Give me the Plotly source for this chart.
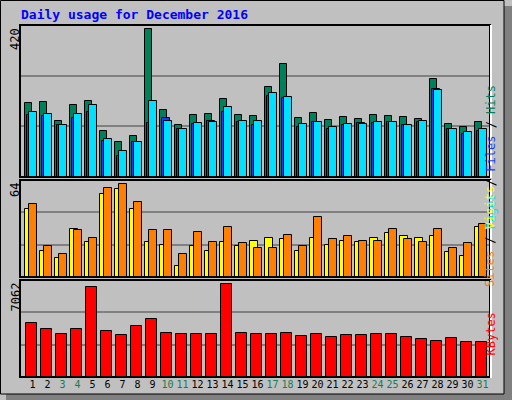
import plotly.graph_objects as go

days = list(range(1, 32))
weekend = [3, 4, 10, 11, 17, 18, 24, 25, 31]
hits = [204, 206, 154, 198, 209, 126, 96, 112, 408, 184, 143, 170, 173, 215, 170, 168,
        248, 311, 162, 176, 157, 165, 159, 170, 168, 165, 159, 270, 146, 137, 151]
files = [170, 168, 143, 162, 181, 99, 57, 96, 148, 162, 134, 146, 154, 181, 151, 143,
         223, 217, 137, 151, 132, 143, 148, 148, 151, 143, 151, 242, 132, 118, 126]
pages = [181, 173, 143, 173, 198, 104, 71, 96, 209, 154, 132, 148, 151, 193, 154, 154,
         231, 220, 146, 151, 137, 146, 146, 151, 151, 143, 154, 240, 134, 124, 134]
sites = [44.7, 17.3, 12.7, 32, 23.3, 54.7, 58, 44.7, 23.3, 21.3, 7.3, 20.7, 17.3, 23.3, 20.7, 24,
         26, 25.3, 17.3, 26, 21.3, 24, 23.3, 26, 29.3, 27.3, 26, 27.3, 16.7, 14, 32.7]
visits = [48, 20.7, 15.3, 30.7, 26, 58.7, 61.3, 49.3, 30.7, 30.7, 15.3, 30, 23.3, 32.7, 22.7, 19.3,
          19.3, 28, 20.7, 39.3, 25.3, 27.3, 24, 24, 32, 25.3, 23.3, 32, 19.3, 22.7, 34.7]
kbytes = [3951, 3506, 3136, 3506, 6543, 3358, 3062, 3728, 4247, 3210, 3136, 3136, 3136, 6766, 3210, 3136,
          3136, 3210, 2988, 3136, 2914, 3062, 3062, 3136, 3136, 2914, 2766, 2617, 2840, 2543, 2543]
max_hits, max_visits, max_kb = 420, 64, 7062

C_HITS, C_FILES, C_PAGES = "#00805a", "#1040ff", "#00e0ff"
C_SITES, C_VISITS, C_KB = "#ffff00", "#ff8000", "#ff0000"
W, H = 512, 400

fig = go.Figure()
line = dict(color="black", width=1)
def bar(y, color, off, w, ax):
    fig.add_trace(go.Bar(x=days, y=y, offset=off, width=w, marker=dict(color=color, line=line),
                         xaxis="x" + ax, yaxis="y" + ax, showlegend=False, hoverinfo="y"))
bar(hits, C_HITS, -0.48, 0.47, "")
bar(files, C_FILES, -0.36, 0.53, "")
bar(pages, C_PAGES, -0.24, 0.53, "")
bar(sites, C_SITES, -0.48, 0.5, "2")
bar(visits, C_VISITS, -0.22, 0.49, "2")
bar(kbytes, C_KB, -0.41, 0.69, "3")

def px(x): return x / W
def py(y): return 1 - y / H
xd = [px(20), px(490)]
panels = [("", 25, 177, max_hits), ("2", 180, 277, max_visits), ("3", 280, 377, max_kb)]
ticktext = [f"<span style='color:{'#1a7a55' if d in weekend else 'black'}'>{d}</span>" for d in days]
lay = dict(paper_bgcolor="#c0c0c0", plot_bgcolor="#c0c0c0", width=W, height=H,
           margin=dict(l=0, r=0, t=0, b=0), barmode="overlay", bargap=0,
           font=dict(family="DejaVu Sans Mono", size=11, color="black"))
shapes, ann = [], []
for ax, top, bot, mx in panels:
    xa = dict(domain=xd, range=[0.17, 31.5], showgrid=False, zeroline=False, fixedrange=True,
              showticklabels=False, ticks="")
    if ax == "3":
        xa.update(showticklabels=True, tickvals=days, ticktext=ticktext, tickangle=0,
                  tickfont=dict(size=10, family="DejaVu Sans Mono"), automargin=False)
    else:
        xa["matches"] = "x3"
    if ax:
        xa["anchor"] = "y" + ax
    ya = dict(domain=[py(bot), py(top)], range=[0, mx], showticklabels=False,
              tickvals=[mx / 3, 2 * mx / 3], gridcolor="#808080", gridwidth=2, zeroline=False, fixedrange=True)
    if ax:
        ya["anchor"] = "x" + ax
    lay["xaxis" + ax] = xa
    lay["yaxis" + ax] = ya
    shapes.append(dict(type="rect", xref="paper", yref="paper", x0=px(20), x1=px(490), y0=py(bot), y1=py(top),
                       line=dict(color="black", width=2)))
    shapes.append(dict(type="line", xref="paper", yref="paper", x0=px(491), x1=px(491), y0=py(bot + 1), y1=py(top),
                       line=dict(color="white", width=2)))
    ann.append(dict(text=str(mx), xref="paper", yref="paper", x=px(15), y=py(top + 1), xanchor="center",
                    yanchor="top", textangle=-90, showarrow=False, font=dict(size=12)))

def span(t, c): return f"<span style='color:{c}'>{t}</span>"
sl = "<span style='color:black'> / </span>"
for txt, yc in [(span("Pages", C_PAGES) + sl + span("Files", C_FILES) + sl + span("Hits", C_HITS), 83),
                (span("Sites", C_VISITS) + sl + span("Visits", C_SITES), 237),
                (span("KBytes", C_KB), 358)]:
    ann.append(dict(text=txt, xref="paper", yref="paper", x=px(499), y=py(yc), textangle=-90,
                    showarrow=False, font=dict(size=12, family="DejaVu Sans Mono")))
ann.append(dict(text="<b>Daily usage for December 2016</b>", xref="paper", yref="paper", x=px(19), y=py(15),
                xanchor="left", yanchor="middle", showarrow=False,
                font=dict(size=13, color="#0000ff", family="DejaVu Sans Mono")))
shapes.append(dict(type="rect", xref="paper", yref="paper", x0=px(504), x1=1, y0=0, y1=py(6),
                   fillcolor="#808080", line=dict(width=0)))
shapes.append(dict(type="rect", xref="paper", yref="paper", x0=px(6), x1=1, y0=0, y1=py(394),
                   fillcolor="#808080", line=dict(width=0)))
shapes.append(dict(type="rect", xref="paper", yref="paper", x0=px(0.5), x1=px(504), y0=py(394), y1=py(0.5),
                   line=dict(color="black", width=1)))
lay["shapes"] = shapes
lay["annotations"] = ann
fig.update_layout(**lay)
fig.write_html("out.html", config={"displayModeBar": False},
               post_script="document.body.style.margin='0';document.body.style.overflow='hidden';")
